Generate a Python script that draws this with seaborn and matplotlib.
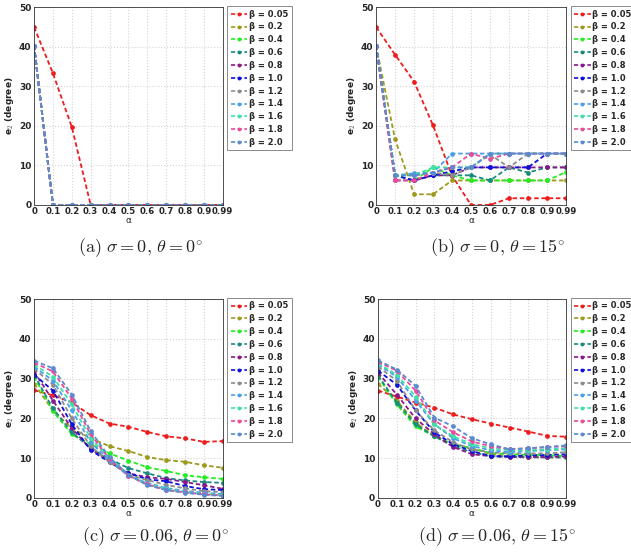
import numpy as np
import pandas as pd
import seaborn as sns
import matplotlib.pyplot as plt
from matplotlib.lines import Line2D

sns.set_theme(style="whitegrid")
plt.rcParams['font.family'] = ['DejaVu Sans']
plt.rcParams['mathtext.fontset'] = 'cm'

# x axis categories (equally spaced)
ALPHA_LABELS = ['0', '0.1', '0.2', '0.3', '0.4', '0.5', '0.6', '0.7', '0.8', '0.9', '0.99']
BETAS = ['0.05', '0.2', '0.4', '0.6', '0.8', '1.0', '1.2', '1.4', '1.6', '1.8', '2.0']
COLORS = ['#ee1c1c', '#9c9a1c', '#22ee22', '#1a8a80', '#8a1a8a', '#1010dd',
          '#8c8c8c', '#4aa0e8', '#3ee0a8', '#e84c9a', '#5a8ad0']

# (a) sigma = 0, theta = 0
rest_a = [40.3, 0, 0, 0, 0, 0, 0, 0, 0, 0, 0]
E2_A = {
    '0.05': [45, 33.3, 19.7, 0, 0, 0, 0, 0, 0, 0, 0],
    '0.2': rest_a, '0.4': rest_a, '0.6': rest_a, '0.8': rest_a, '1.0': rest_a,
    '1.2': rest_a, '1.4': rest_a, '1.6': rest_a, '1.8': rest_a, '2.0': rest_a,
}

# (b) sigma = 0, theta = 15
E2_B = {
    '0.05': [45, 38, 31.2, 20.1, 7.4, 0, 0, 1.7, 1.7, 1.7, 1.7],
    '0.2': [40.3, 16.6, 2.7, 2.7, 6.2, 6.2, 6.2, 6.2, 6.2, 6.2, 6.2],
    '0.4': [40.3, 7.5, 6.2, 9.5, 7.5, 6.2, 6.2, 6.2, 6.2, 6.2, 8.3],
    '0.6': [40.3, 7.5, 6.2, 7.5, 7.5, 7.5, 6.2, 9.5, 8.2, 9.5, 9.5],
    '0.8': [40.3, 6.2, 6.2, 7.5, 7.5, 9.5, 9.5, 9.5, 9.5, 9.5, 9.5],
    '1.0': [40.3, 7.5, 6.2, 7.5, 8.5, 9.5, 9.5, 9.5, 9.5, 13, 13],
    '1.2': [40.3, 7.5, 7.5, 8.2, 7.5, 9.5, 12.8, 9.5, 13, 13, 13],
    '1.4': [40.3, 7.5, 8.0, 8.2, 13, 13, 13, 13, 13, 13, 13],
    '1.6': [40.3, 7.5, 7.5, 9.5, 9.5, 9.5, 13, 13, 13, 13, 13],
    '1.8': [40.3, 6.2, 6.2, 8.2, 9.5, 13, 11.7, 13, 13, 13, 13],
    '2.0': [40.3, 7.5, 7.5, 8.2, 9.5, 9.5, 13, 13, 13, 13, 13],
}

# (c) sigma = 0.06, theta = 0
E2_C = {
    '0.05': [27.1, 25.8, 24.0, 20.8, 18.7, 17.9, 16.6, 15.5, 15.0, 14.1, 14.3],
    '0.2': [28.7, 22.0, 17.5, 15.0, 13.0, 11.8, 10.3, 9.5, 9.1, 8.2, 7.6],
    '0.4': [30.5, 21.8, 16.0, 13.5, 11.2, 9.4, 7.7, 6.8, 5.7, 5.2, 4.8],
    '0.6': [31.0, 22.5, 16.5, 12.5, 9.8, 7.5, 6.2, 5.0, 4.4, 4.0, 3.8],
    '0.8': [31.8, 24.5, 17.5, 12.3, 9.3, 6.2, 5.2, 4.8, 4.0, 3.2, 2.3],
    '1.0': [31.0, 27.0, 18.5, 12.0, 9.0, 6.2, 4.7, 4.2, 3.0, 2.2, 2.0],
    '1.2': [32.5, 28.5, 20.0, 13.0, 9.0, 5.8, 4.5, 3.3, 2.4, 1.7, 1.5],
    '1.4': [33.0, 29.5, 22.0, 14.0, 9.5, 5.5, 3.8, 2.5, 1.8, 1.3, 1.0],
    '1.6': [33.5, 30.5, 23.5, 15.0, 10.0, 5.8, 3.5, 2.3, 1.5, 1.0, 0.8],
    '1.8': [34.0, 31.8, 25.0, 16.0, 9.7, 5.6, 3.4, 2.0, 1.4, 0.9, 0.6],
    '2.0': [34.5, 32.6, 26.0, 16.8, 10.2, 5.8, 3.2, 2.0, 1.3, 0.8, 0.5],
}

# (d) sigma = 0.06, theta = 15
E2_D = {
    '0.05': [27.0, 25.5, 24.0, 22.7, 21.0, 19.8, 18.7, 17.7, 16.7, 15.6, 15.4],
    '0.2': [28.7, 24.5, 19.0, 15.5, 13.5, 12.5, 11.0, 10.5, 10.3, 10.2, 10.2],
    '0.4': [30.5, 23.5, 18.0, 15.5, 13.5, 12.5, 11.3, 11.0, 10.8, 10.8, 10.5],
    '0.6': [30.8, 24.0, 18.5, 15.5, 13.0, 11.5, 10.5, 10.3, 10.2, 10.2, 10.2],
    '0.8': [31.5, 26.0, 20.0, 16.0, 12.8, 11.0, 10.5, 10.3, 10.3, 10.3, 10.5],
    '1.0': [32.0, 28.5, 22.0, 16.5, 13.5, 11.8, 10.5, 10.5, 10.7, 10.8, 11.0],
    '1.2': [33.0, 29.5, 22.0, 17.0, 14.0, 12.2, 11.5, 11.2, 11.2, 11.2, 11.5],
    '1.4': [33.5, 30.5, 24.5, 18.5, 15.0, 13.0, 12.0, 11.5, 11.8, 12.0, 12.2],
    '1.6': [33.8, 31.0, 25.5, 18.5, 15.5, 13.5, 12.5, 12.0, 12.0, 12.2, 12.5],
    '1.8': [34.2, 32.0, 27.0, 19.5, 16.5, 14.2, 13.0, 12.3, 12.5, 12.8, 13.0],
    '2.0': [34.6, 32.3, 28.2, 20.2, 18.0, 15.0, 13.5, 12.2, 12.5, 12.8, 13.2],
}

CAPTIONS = [r'$\mathrm{(a)}\ \sigma = 0,\, \theta = 0^{\circ}$',
            r'$\mathrm{(b)}\ \sigma = 0,\, \theta = 15^{\circ}$',
            r'$\mathrm{(c)}\ \sigma = 0.06,\, \theta = 0^{\circ}$',
            r'$\mathrm{(d)}\ \sigma = 0.06,\, \theta = 15^{\circ}$']

DASH = (0, (2.5, 1.5))


def to_long(table):
    rows = []
    for beta in BETAS:
        for i, v in enumerate(table[beta]):
            rows.append({'alpha': i, 'beta': beta, 'e2': v})
    return pd.DataFrame(rows)


def draw_panel(ax, table):
    df = to_long(table)
    sns.lineplot(data=df, x='alpha', y='e2', hue='beta', hue_order=BETAS,
                 palette=COLORS, marker='o', markersize=3.4, markeredgewidth=0,
                 linestyle=DASH, linewidth=1.3, legend=False, ax=ax)
    ax.set_xlim(0, len(ALPHA_LABELS) - 1)
    ax.set_ylim(0, 50)
    ax.set_xticks(range(len(ALPHA_LABELS)))
    ax.set_xticklabels(ALPHA_LABELS)
    ax.set_yticks([0, 10, 20, 30, 40, 50])
    ax.tick_params(axis='y', labelsize=6.5, pad=2, length=0)
    ax.tick_params(axis='x', labelsize=6.2, pad=1.5, length=0)
    for lab in ax.get_xticklabels() + ax.get_yticklabels():
        lab.set_fontweight('bold')
    ax.set_xlabel('\u03b1', fontsize=6.5, labelpad=0)
    ax.set_ylabel(r'e$_{\mathbf{2}}$ (degree)', fontsize=6.5, fontweight='bold', labelpad=2)
    ax.grid(True, color='#d4d4d4', linestyle=':', linewidth=0.8)
    for s in ax.spines.values():
        s.set_color('#333333')
        s.set_linewidth(0.6)
    handles = [Line2D([], [], color=c, linestyle=DASH, marker='o', markersize=2.8,
                      markeredgewidth=0, linewidth=1.2) for c in COLORS]
    labels = ['\u03b2 = ' + b for b in BETAS]
    leg = ax.legend(handles, labels, loc='upper left', bbox_to_anchor=(1.025, 1.005),
                    fontsize=6, frameon=True, fancybox=False, handlelength=2.0,
                    handletextpad=0.2, borderpad=0.4, labelspacing=0.46,
                    borderaxespad=0)
    leg.get_frame().set_edgecolor('#555555')
    leg.get_frame().set_linewidth(0.6)
    for t in leg.get_texts():
        t.set_fontweight('bold')


fig = plt.figure(figsize=(6.31, 5.57), dpi=100, facecolor='white')
positions = [[0.054, 0.632, 0.299, 0.355], [0.596, 0.632, 0.301, 0.355],
             [0.054, 0.106, 0.299, 0.357], [0.599, 0.106, 0.298, 0.357]]
tables = [E2_A, E2_B, E2_C, E2_D]
cap_pos = [(0.222, 0.555), (0.789, 0.555), (0.247, 0.036), (0.788, 0.036)]

for pos, table, cap, cp in zip(positions, tables, CAPTIONS, cap_pos):
    ax = fig.add_axes(pos)
    draw_panel(ax, table)
    fig.text(cp[0], cp[1], cap, fontsize=13, ha='center', va='center')

fig.savefig('out.png', dpi=100)
